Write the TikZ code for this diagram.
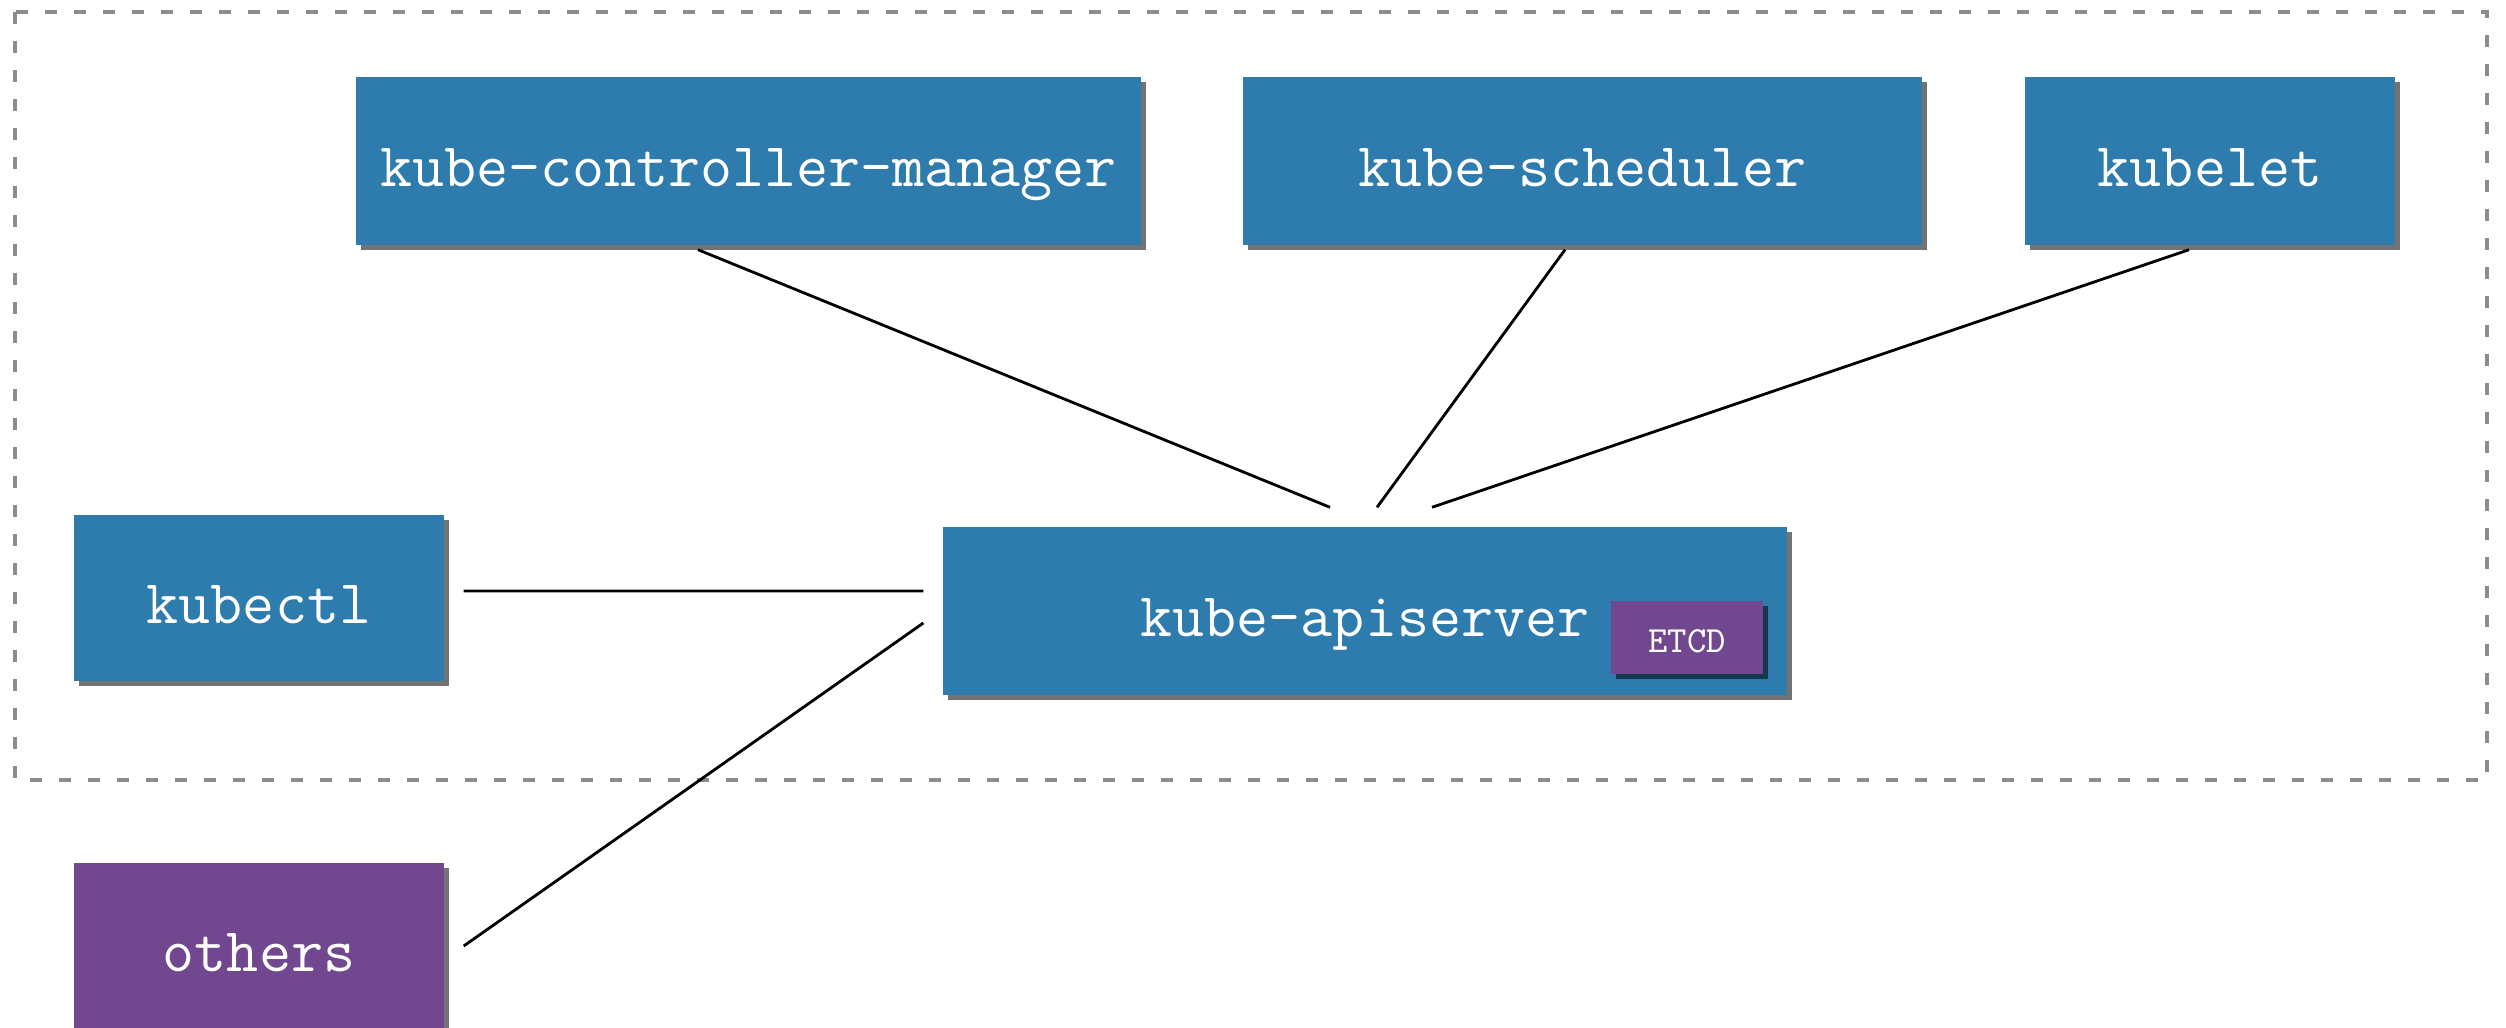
\documentclass[tikz,border=0pt]{standalone}
\usepackage{tikz}
\usetikzlibrary{calc, positioning, shadows}

\definecolor{KubeBlue}{RGB}{46,124,174}
\definecolor{KubePurple}{RGB}{113,72,143}
\definecolor{FrameGray}{RGB}{140,140,140}

\tikzset{
  comp/.style={rectangle, fill=KubeBlue, text=white, minimum height=1.68cm,
    inner sep=0pt, text height=0.51cm, text depth=0pt,
    font=\ttfamily\fontsize{17.7}{20}\selectfont,
    drop shadow={shadow xshift=0.05cm, shadow yshift=-0.05cm, fill=black, opacity=0.55}},
  extra/.style={comp, fill=KubePurple},
  link/.style={line width=0.8pt, black}
}

\begin{document}
\begin{tikzpicture}
            \useasboundingbox (0,0) rectangle (25.06,-10.27);

            % === Master frame ===
            \draw[FrameGray, line width=1pt, dash pattern=on 0.12cm off 0.17cm]
            (0.15,-0.12) rectangle (24.87,-7.80);

            % === Top row ===
            \node[comp, minimum width=7.85cm] (kcm) at (7.485,-1.61) {kube-controller-manager};
            \node[comp, minimum width=6.79cm] (sched) at (15.825,-1.61) {kube-scheduler};
            \node[comp, minimum width=3.70cm] (kubelet) at (22.10,-1.61) {kubelet};

            % === Middle row ===
            \node[comp, minimum width=3.70cm, minimum height=1.66cm] (kubectl) at (2.59,-5.98) {kubectl};
            \node[comp, minimum width=8.44cm] (api) at (13.65,-6.11) {kube-apiserver};
            \node[extra, minimum width=1.52cm, minimum height=0.73cm, text height=0.30cm,
                  font=\ttfamily\fontsize{10.5}{12}\selectfont] (etcd) at (16.87,-6.375) {ETCD};

            % === Outside the frame ===
            \node[extra, minimum width=3.70cm, minimum height=1.66cm] (others) at (2.59,-9.46) {others};

            % line ends, a bit off the boxes
            \coordinate (kcm-out) at ($(kcm.south)+(-0.505,-0.04)$);
            \coordinate (sched-out) at ($(sched.south)+(-0.175,-0.04)$);
            \coordinate (kubelet-out) at ($(kubelet.south)+(-0.21,-0.04)$);
            \coordinate (api-in1) at ($(api.north)+(-0.35,0.19)$);
            \coordinate (api-in2) at ($(api.north)+(0.12,0.19)$);
            \coordinate (api-in3) at ($(api.north)+(0.67,0.19)$);
            \coordinate (kubectl-out) at ($(kubectl.east)+(0.19,0.07)$);
            \coordinate (others-out) at ($(others.east)+(0.19,0)$);
            \coordinate (api-in4) at ($(api.west)+(-0.19,0.20)$);
            \coordinate (api-in5) at ($(api.west)+(-0.19,-0.12)$);

            \draw[link] (kcm-out) -- (api-in1);
            \draw[link] (sched-out) -- (api-in2);
            \draw[link] (kubelet-out) -- (api-in3);
            \draw[link] (kubectl-out) -- (api-in4);
            \draw[link] (others-out) -- (api-in5);
        \end{tikzpicture}
\end{document}
